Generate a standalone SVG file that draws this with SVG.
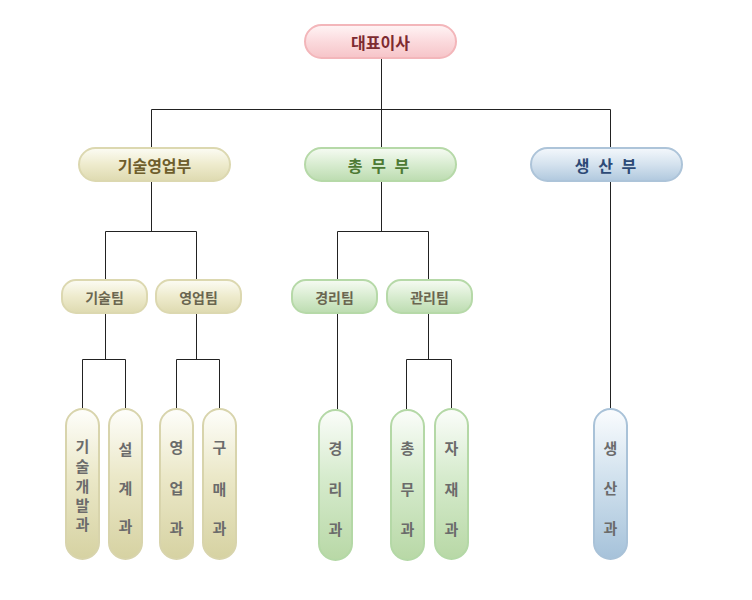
<svg xmlns="http://www.w3.org/2000/svg" width="752" height="600" viewBox="0 0 752 600">
<defs>
<linearGradient id="gPink" x1="0" y1="0" x2="0" y2="1">
<stop offset="0" stop-color="#fff4f5"/><stop offset="0.5" stop-color="#fbdadd"/><stop offset="1" stop-color="#f6c4c8"/>
</linearGradient>
<linearGradient id="gOlive" x1="0" y1="0" x2="0" y2="1">
<stop offset="0" stop-color="#fcfcf4"/><stop offset="0.5" stop-color="#eeebcd"/><stop offset="1" stop-color="#dedab0"/>
</linearGradient>
<linearGradient id="gGreen" x1="0" y1="0" x2="0" y2="1">
<stop offset="0" stop-color="#f6fbf3"/><stop offset="0.5" stop-color="#d8ecd0"/><stop offset="1" stop-color="#bcdcb0"/>
</linearGradient>
<linearGradient id="gBlue" x1="0" y1="0" x2="0" y2="1">
<stop offset="0" stop-color="#f4f8fc"/><stop offset="0.5" stop-color="#d4e2ee"/><stop offset="1" stop-color="#b0c8de"/>
</linearGradient>
<linearGradient id="vOlive" x1="0" y1="0" x2="0" y2="1">
<stop offset="0" stop-color="#fefefb"/><stop offset="0.45" stop-color="#ebe8c8"/><stop offset="1" stop-color="#d6d2a2"/>
</linearGradient>
<linearGradient id="vGreen" x1="0" y1="0" x2="0" y2="1">
<stop offset="0" stop-color="#fbfdfa"/><stop offset="0.45" stop-color="#d6ebcd"/><stop offset="1" stop-color="#b8d8a6"/>
</linearGradient>
<linearGradient id="vBlue" x1="0" y1="0" x2="0" y2="1">
<stop offset="0" stop-color="#fafcfe"/><stop offset="0.45" stop-color="#d2e2ee"/><stop offset="1" stop-color="#a6c2da"/>
</linearGradient>
</defs>
<style>
.t{font-family:"Noto Sans CJK KR","Noto Sans",sans-serif;font-weight:bold;text-anchor:middle;dominant-baseline:central}
.pink{fill:url(#gPink);stroke:#f3b6ba;stroke-width:2}
.olive{fill:url(#gOlive);stroke:#dcd8b0;stroke-width:2}
.green{fill:url(#gGreen);stroke:#b6d9a8;stroke-width:2}
.blue{fill:url(#gBlue);stroke:#adc4d9;stroke-width:2}
.volive{fill:url(#vOlive);stroke:#d8d4ac;stroke-width:2}
.vgreen{fill:url(#vGreen);stroke:#b4d8a6;stroke-width:2}
.vblue{fill:url(#vBlue);stroke:#a9c2d8;stroke-width:2}
.l1{font-size:16px}
.l2{font-size:16px}
.sp{word-spacing:5px}
.l3{font-size:14px;fill:#6a6650}
.l4{font-size:15px;fill:#6b6b6b}
.c{fill:none;stroke:#222;stroke-width:1}
</style>
<rect width="752" height="600" fill="#fff"/>
<g id="connectors">
<path class="c" d="M381.5 58V109.5M151.5 109.5H610.5M151.5 109.5V148M381.5 109.5V148M610.5 109.5V148"/>
<path class="c" d="M151.5 181V231.5M105.5 231.5H196.5M105.5 231.5V279M196.5 231.5V279"/>
<path class="c" d="M381.5 181V231.5M337.5 231.5H428.5M337.5 231.5V279M428.5 231.5V279"/>
<path class="c" d="M610.5 181V409"/>
<path class="c" d="M105.5 314V359.5M82.5 359.5H125.5M82.5 359.5V408M125.5 359.5V408"/>
<path class="c" d="M196.5 314V359.5M176.5 359.5H219.5M176.5 359.5V408M219.5 359.5V408"/>
<path class="c" d="M337.5 313V409"/>
<path class="c" d="M428.5 313V359.5M406.5 359.5H451.5M406.5 359.5V409M451.5 359.5V409"/>
</g>
<g id="n-ceo"><rect class="pink" x="305" y="25" width="151" height="33" rx="16.5"/><text class="t l1" x="380.5" y="41.5" fill="#7d2a30">대표이사</text></g>
<g id="n-tech-sales"><rect class="olive" x="79" y="148" width="151" height="33" rx="16.5"/><text class="t l2" x="154.5" y="164.5" fill="#6e5e2c">기술영업부</text></g>
<g id="n-general"><rect class="green" x="305" y="148" width="151" height="33" rx="16.5"/><text class="t l2 sp" x="378.5" y="164.5" fill="#4d7a34">총 무 부</text></g>
<g id="n-production"><rect class="blue" x="531" y="148" width="151" height="33" rx="16.5"/><text class="t l2 sp" x="605.5" y="164.5" fill="#2d4a76">생 산 부</text></g>
<g id="n-tech-team"><rect class="olive" x="62" y="280" width="85" height="33" rx="14"/><text class="t l3" x="104.5" y="296.5">기술팀</text></g>
<g id="n-sales-team"><rect class="olive" x="156" y="280" width="85" height="33" rx="14"/><text class="t l3" x="198.5" y="296.5">영업팀</text></g>
<g id="n-acct-team"><rect class="green" x="292" y="280" width="85" height="33" rx="14"/><text class="t l3" x="334.5" y="296.5" fill="#666">경리팀</text></g>
<g id="n-admin-team"><rect class="green" x="387" y="280" width="85" height="33" rx="14"/><text class="t l3" x="429.5" y="296.5" fill="#666">관리팀</text></g>
<g id="n-dev"><rect class="volive" x="66" y="409" width="33" height="150" rx="16.5"/>
<text class="t l4" x="82.5" y="445">기</text><text class="t l4" x="82.5" y="465">술</text><text class="t l4" x="82.5" y="485">개</text><text class="t l4" x="82.5" y="504">발</text><text class="t l4" x="82.5" y="523">과</text></g>
<g id="n-design"><rect class="volive" x="109" y="409" width="33" height="150" rx="16.5"/>
<text class="t l4" x="125.5" y="448">설</text><text class="t l4" x="125.5" y="487">계</text><text class="t l4" x="125.5" y="525">과</text></g>
<g id="n-sales"><rect class="volive" x="160" y="409" width="33" height="150" rx="16.5"/>
<text class="t l4" x="176.5" y="446">영</text><text class="t l4" x="176.5" y="487">업</text><text class="t l4" x="176.5" y="527">과</text></g>
<g id="n-purchase"><rect class="volive" x="203" y="409" width="33" height="150" rx="16.5"/>
<text class="t l4" x="219.5" y="446">구</text><text class="t l4" x="219.5" y="488">매</text><text class="t l4" x="219.5" y="527">과</text></g>
<g id="n-acct"><rect class="vgreen" x="319" y="410" width="33" height="150" rx="16.5"/>
<text class="t l4" x="335.5" y="447">경</text><text class="t l4" x="335.5" y="488">리</text><text class="t l4" x="335.5" y="528">과</text></g>
<g id="n-general-affairs"><rect class="vgreen" x="391" y="410" width="33" height="150" rx="16.5"/>
<text class="t l4" x="407.5" y="447">총</text><text class="t l4" x="407.5" y="488">무</text><text class="t l4" x="407.5" y="528">과</text></g>
<g id="n-materials"><rect class="vgreen" x="435" y="409" width="33" height="150" rx="16.5"/>
<text class="t l4" x="451.5" y="447">자</text><text class="t l4" x="451.5" y="488">재</text><text class="t l4" x="451.5" y="528">과</text></g>
<g id="n-prod"><rect class="vblue" x="594" y="409" width="33" height="150" rx="16.5"/>
<text class="t l4" x="610.5" y="447">생</text><text class="t l4" x="610.5" y="487">산</text><text class="t l4" x="610.5" y="527">과</text></g>
</svg>
